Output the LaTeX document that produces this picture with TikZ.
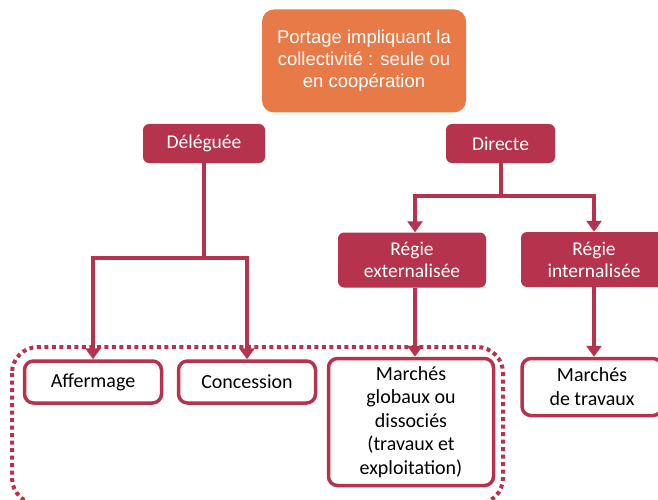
\documentclass[tikz,border=0pt]{standalone}
\usepackage{fontspec}
\setmainfont{Carlito}
\newfontfamily\arialfont{Liberation Sans}
\usetikzlibrary{arrows.meta}
\definecolor{crim}{HTML}{B5334C}
\definecolor{orng}{HTML}{E87A48}
\tikzset{
  filled/.style={fill=crim, rounded corners=6pt, text=white, font=\fontsize{19.5}{22}\selectfont, align=center, inner sep=0pt},
  outlined/.style={draw=crim, line width=3.5pt, fill=white, rounded corners=9pt, text=black, font=\fontsize{20}{23.5}\selectfont, align=center, inner sep=0pt},
  conn/.style={draw=crim, line width=4pt},
  arr/.style={conn, -{Triangle[width=15pt,length=11pt]}},
  groupbox/.style={draw=crim, line width=4pt, dash pattern=on 4pt off 3.5pt, rounded corners=26pt}
}
\begin{document}
\begin{tikzpicture}[x=1pt,y=-1pt]
\useasboundingbox (0,0) rectangle (658,500);
\clip (0,0) rectangle (658,500);
% top box
\node[fill=orng, rounded corners=12pt, text=white, minimum width=204pt, minimum height=103pt, inner sep=0pt, align=center, font=\arialfont\fontsize{18.5}{22}\selectfont] (top) at (364,61) {Portage impliquant la\\collectivité : seule ou\\en coopération};
% level 1
\node[filled, minimum width=122pt, minimum height=39pt] (del) at (204,143.5) {Déléguée};
\node[filled, minimum width=109pt, minimum height=39pt] (dir) at (500.5,143.5) {Directe};
% level 2
\node[filled, minimum width=148pt, minimum height=55pt] (rext) at (412,260) {Régie\\externalisée};
\node[filled, minimum width=146pt, minimum height=55pt] (rint) at (594,259.5) {Régie\\internalisée};
% group
\draw[groupbox] (12,347) rectangle (503,504);
% level 3
\node[outlined, minimum width=137pt, minimum height=42pt] (aff) at (93,382) {Affermage};
\node[outlined, minimum width=137pt, minimum height=42pt] (con) at (247,382) {Concession};
\node[outlined, minimum width=165pt, minimum height=127pt] (mg) at (411,422) {Marchés\\globaux ou\\dissociés\\(travaux et\\exploitation)};
\node[outlined, minimum width=140pt, minimum height=57pt, font=\fontsize{20}{24}\selectfont] (mt) at (592,387) {Marchés\\de travaux};
% connectors
\coordinate (dj) at (204,258);
\draw[conn] (del.south) -- (dj);
\draw[arr] (dj) -| (aff.north);
\draw[arr] (dj) -| (con.north);
\coordinate (rj) at (500.5,196);
\draw[conn] (dir.south) -- (rj);
\draw[arr] (rj) -| (rext.north -| 415,0);
\draw[arr] (rj) -| (rint.north);
\draw[arr] (rext.south -| 415,0) -- (mg.north -| 415,0);
\draw[arr] (rint.south) -- (mt.north -| 594,0);
\end{tikzpicture}
\end{document}
